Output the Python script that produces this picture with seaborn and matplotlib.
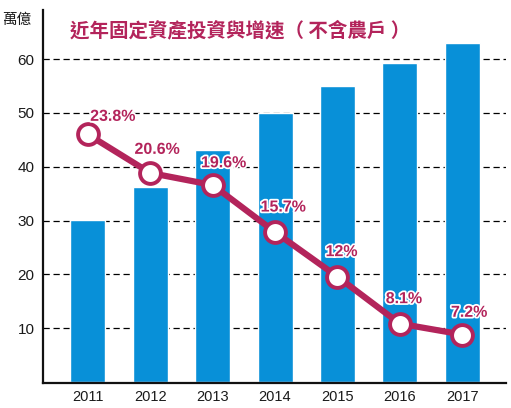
import matplotlib
matplotlib.use("Agg")
import matplotlib.pyplot as plt
import matplotlib.patheffects as pe
import seaborn as sns
import pandas as pd

years = ["2011", "2012", "2013", "2014", "2015", "2016", "2017"]
investment = [30.2, 36.2, 43.2, 50.0, 55.0, 59.3, 63.0]   # 萬億
growth = [23.8, 20.6, 19.6, 15.7, 12.0, 8.1, 7.2]          # %
growth_labels = ["23.8%", "20.6%", "19.6%", "15.7%", "12%", "8.1%", "7.2%"]
yticks = [10, 20, 30, 40, 50, 60]

BLUE = "#0890d8"
RED = "#b3245b"

sns.set_theme(style="white")
plt.rcParams["font.family"] = ["Liberation Sans", "Noto Sans CJK TC", "DejaVu Sans"]

df = pd.DataFrame({"year": years, "inv": investment, "g": growth})

fig = plt.figure(figsize=(5.11, 4.08), dpi=100)
ax = fig.add_axes([0.084, 0.061, 0.906, 0.914])

sns.barplot(data=df, x="year", y="inv", color=BLUE, saturation=1, width=0.56,
            ax=ax, zorder=2)
ax.set_ylim(-0.2, 69.1)
ax.set_xlim(-0.72, 6.70)
ax.set_yticks(yticks)
ax.set_yticklabels([str(v) for v in yticks], fontsize=11, color="#1a1a1a")
ax.tick_params(axis="x", length=0, pad=5, labelsize=10.5, labelcolor="#1a1a1a")
ax.tick_params(axis="y", length=0, pad=6)
ax.set_xlabel("")
ax.set_ylabel("")
ax.yaxis.grid(True, linestyle=(0, (5, 3)), color="black", linewidth=0.9, zorder=0)
ax.set_axisbelow(True)
for s in ["top", "right"]:
    ax.spines[s].set_visible(False)
for s in ["left", "bottom"]:
    ax.spines[s].set_color("#111111")
    ax.spines[s].set_linewidth(1.6)

ax2 = ax.twinx()
sns.pointplot(data=df, x="year", y="g", color=RED, ax=ax2, markers="o",
              linewidth=4.5, markersize=15)
ax2.set_xlim(-0.72, 6.70)
ax2.set_ylim(3.17, 34.1)
ax2.set_yticks([])
ax2.set_ylabel("")
ax2.set_xlabel("")
for s in ax2.spines.values():
    s.set_visible(False)
for ln in ax2.lines:
    ln.set_markerfacecolor("white")
    ln.set_markeredgecolor(RED)
    ln.set_markeredgewidth(2.8)
    ln.set_color(RED)
    ln.set_linewidth(4.5)
    ln.set_markersize(15)

offsets = [(18, 13), (5, 17), (8, 16), (6, 18), (3, 18), (3, 18), (5, 16)]
for i, (g, lab) in enumerate(zip(growth, growth_labels)):
    t = ax2.annotate(lab, xy=(i, g), xytext=offsets[i], textcoords="offset points",
                     ha="center", va="center", fontsize=11.5, fontweight="bold",
                     color=RED, zorder=5)
    t.set_path_effects([pe.withStroke(linewidth=2.5, foreground="white")])

fig.text(0.004, 0.952, "萬億", fontsize=10.5, color="#1a1a1a",
         family=["Noto Sans CJK TC", "DejaVu Sans"], ha="left", va="center")
fig.text(0.137, 0.925, "近年固定資產投資與增速（ 不含農戶 ）", fontsize=14,
         fontweight="bold", color=RED,
         family=["Noto Sans CJK TC", "DejaVu Sans"], ha="left", va="center")

fig.savefig("out.png", dpi=100)
